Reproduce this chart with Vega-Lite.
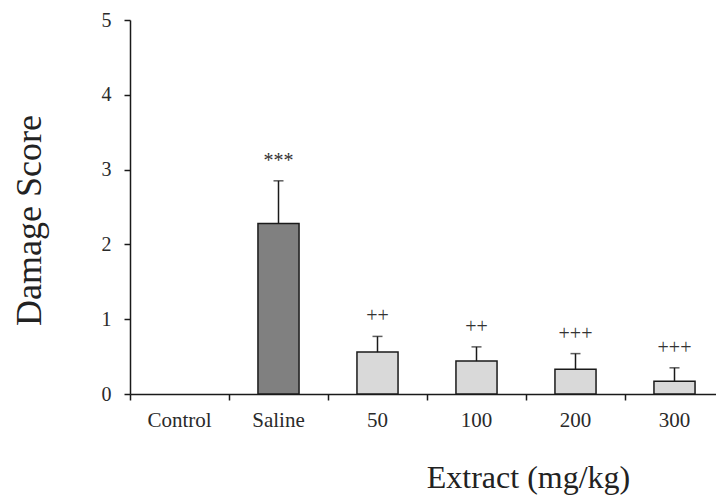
{
  "$schema": "https://vega.github.io/schema/vega-lite/v6.json",
  "autosize": {"type": "none"},
  "width": 586,
  "height": 374,
  "padding": {"left": 130, "top": 20, "right": 0, "bottom": 102},
  "background": "white",
  "config": {
    "view": {"stroke": null},
    "font": "Liberation Serif",
    "axis": {
      "domainColor": "#1a1a1a",
      "domainWidth": 1.5,
      "tickColor": "#1a1a1a",
      "tickWidth": 1.5,
      "tickSize": 6,
      "grid": false,
      "labelFont": "Liberation Serif",
      "labelColor": "#2a2a2a",
      "labelFontWeight": "normal",
      "titleFont": "Liberation Serif",
      "titleColor": "#222222",
      "titleFontWeight": "normal"
    }
  },
  "data": {
    "values": [
      {"group": "Control", "kind": "vehicle", "mean": 0, "upper": 0, "sig": ""},
      {"group": "Saline", "kind": "saline", "mean": 2.28, "upper": 2.85, "sig": "***"},
      {"group": "50", "kind": "extract", "mean": 0.56, "upper": 0.77, "sig": "++"},
      {"group": "100", "kind": "extract", "mean": 0.44, "upper": 0.63, "sig": "++"},
      {"group": "200", "kind": "extract", "mean": 0.33, "upper": 0.54, "sig": "+++"},
      {"group": "300", "kind": "extract", "mean": 0.17, "upper": 0.35, "sig": "+++"}
    ]
  },
  "encoding": {
    "x": {
      "field": "group",
      "type": "nominal",
      "sort": ["Control", "Saline", "50", "100", "200", "300"],
      "scale": {
        "domain": ["Control", "Saline", "50", "100", "200", "300"],
        "range": [0, 594],
        "paddingInner": 0,
        "paddingOuter": 0
      },
      "axis": {
        "title": "Extract (mg/kg)",
        "labelAngle": 0,
        "labelFontSize": 21,
        "labelPadding": 9,
        "bandPosition": 0,
        "titleFontSize": 32,
        "titleX": 398,
        "titleY": 93,
        "titleAlign": "center",
        "titleBaseline": "alphabetic"
      }
    }
  },
  "layer": [
    {
      "transform": [{"filter": "datum.mean > 0"}],
      "mark": {"type": "bar", "width": {"band": 0.415}, "stroke": "#1a1a1a", "strokeWidth": 1.5},
      "encoding": {
        "y": {
          "field": "mean",
          "type": "quantitative",
          "scale": {"domain": [0, 5], "nice": false},
          "axis": {
            "title": "Damage Score",
            "values": [0, 1, 2, 3, 4, 5],
            "format": "d",
            "labelFontSize": 20,
            "labelPadding": 13,
            "titleFontSize": 36,
            "titleAngle": -90,
            "titleX": -90,
            "titleY": 200,
            "titleAlign": "center",
            "titleBaseline": "alphabetic"
          }
        },
        "fill": {
          "field": "kind",
          "type": "nominal",
          "scale": {"domain": ["vehicle", "saline", "extract"], "range": ["#d9d9d9", "#808080", "#d9d9d9"]},
          "legend": null
        }
      }
    },
    {
      "transform": [{"filter": "datum.upper > datum.mean"}],
      "mark": {"type": "rule", "color": "#1a1a1a", "strokeWidth": 1.5},
      "encoding": {
        "y": {"field": "mean", "type": "quantitative"},
        "y2": {"field": "upper"}
      }
    },
    {
      "transform": [{"filter": "datum.upper > datum.mean"}],
      "mark": {"type": "tick", "color": "#1a1a1a", "size": 10, "thickness": 1.5},
      "encoding": {
        "y": {"field": "upper", "type": "quantitative"}
      }
    },
    {
      "mark": {"type": "text", "fontSize": 20, "dy": -20, "color": "#333333", "baseline": "middle"},
      "encoding": {
        "y": {"field": "upper", "type": "quantitative"},
        "text": {"field": "sig"}
      }
    }
  ]
}
